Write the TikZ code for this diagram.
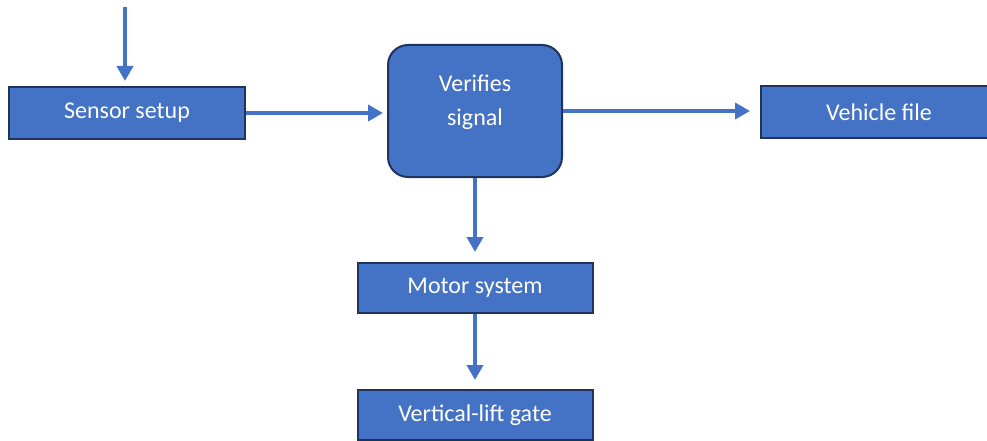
\documentclass[tikz,border=0pt]{standalone}
\usepackage{fontspec}
\setmainfont{Carlito}
\usetikzlibrary{arrows.meta,positioning,calc}
\definecolor{boxblue}{RGB}{68,114,196}
\definecolor{darknavy}{RGB}{31,52,92}

\begin{document}
\begin{tikzpicture}[x=1pt, y=-1pt,
    block/.style={draw=darknavy, line width=2pt, fill=boxblue, text=white,
        font=\fontsize{24}{34}\selectfont, inner sep=0pt},
    flow/.style={draw=boxblue, line width=4.5pt,
        -{Triangle[width=16pt,length=15pt]}}]
    \clip (0,0) rectangle (987,441);

    % Sensor box
    \node[block, minimum width=236pt, minimum height=52pt] (sensor) at (127,113) {Sensor setup};

    % Verification box
    \node[block, rounded corners=20pt, minimum width=174pt, minimum height=132pt] (verify) at (475,111) {
        \raisebox{3pt}[0pt][0pt]{\begin{tabular}{@{}c@{}}
        Verifies \\
        signal
        \end{tabular}}
    };

    % Vehicle file box
    \node[block, minimum width=236pt, minimum height=52pt] (vehicle) at (879,112) {Vehicle file};

    % Motor box
    \node[block, minimum width=235pt, minimum height=50pt] (motor) at (475,288) {Motor system};

    % Gate box
    \node[block, minimum width=235pt, minimum height=50pt] (gate) at (475,415) {Vertical-lift gate};

    % Input
    \coordinate (input) at (125,7);

    % Arrows
    \draw[flow, shorten >=5pt] (input) -- (input |- sensor.north);
    \draw[flow, shorten >=4pt] (sensor.east) -- (sensor.east -| verify.west);
    \draw[flow, shorten >=10pt] (verify.east) -- (verify.east -| vehicle.west);
    \draw[flow, shorten >=10pt] (verify.south) -- (motor.north);
    \draw[flow, shorten >=9pt] (motor.south) -- (gate.north);
\end{tikzpicture}
\end{document}
